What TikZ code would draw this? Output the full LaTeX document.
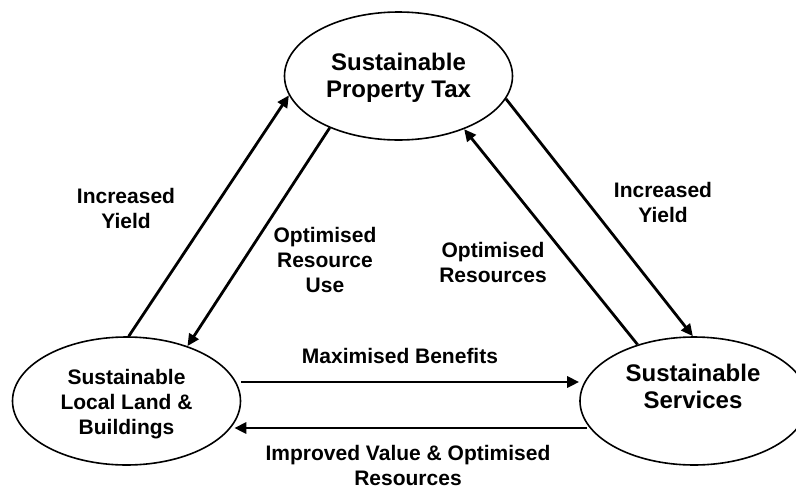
\documentclass[tikz,border=0pt]{standalone}
\usepackage{fontspec}
\setmainfont{Liberation Sans}
\usetikzlibrary{shapes.geometric,arrows.meta}
\begin{document}
\begin{tikzpicture}[x=1pt,y=-1pt,
  ell/.style={ellipse,draw,line width=1.6pt,minimum width=228pt,minimum height=128pt,inner sep=0pt},
  big/.style={font=\bfseries\fontsize{24}{27}\selectfont,align=center,inner sep=0pt},
  mid/.style={font=\bfseries\fontsize{21}{25}\selectfont,align=center,inner sep=0pt},
  lbl/.style={font=\bfseries\fontsize{21}{25}\selectfont,align=center,inner sep=0pt},
  arr/.style={line width=2.8pt,-{Triangle[length=12pt,width=11pt]}}]
\useasboundingbox (0,0) rectangle (796,488);
\clip (0,0) rectangle (796,488);

\node[ell,label={[big,yshift=-1.5pt,name=Tt]center:Sustainable\\Property Tax}] (T) at (398.5,76) {};
\node[ell,label={[mid,yshift=-3.5pt,name=Lt]center:Sustainable\\Local Land \&\\Buildings}] (L) at (126.5,401) {};
\node[ell,label={[big,xshift=-1pt,yshift=15pt,name=Rt]center:Sustainable\\Services}] (R) at (694,401) {};

\draw[arr] (L.88) -- (T.190.5);
\draw[arr] (T.217) -- (L.42);
\draw[arr] (R.135) -- (T.321.7);
\draw[arr] (T.348.8) -- (R.91);
\draw[arr] ([yshift=19pt]L.east) -- ([yshift=19pt]R.west);
\draw[arr] ([shift={(8pt,-27pt)}]R.west) -- ([shift={(-7pt,-27pt)}]L.east);

\node[lbl] (l1) at (126,208.5) {Increased\\Yield};
\node[lbl] (l2) at (325,260) {Optimised\\Resource\\Use};
\node[lbl] (l3) at (493,262) {Optimised\\Resources};
\node[lbl] (l4) at (663,202) {Increased\\Yield};
\node[lbl] (l5) at (400,355.5) {Maximised Benefits};
\node[lbl] (l6) at (408,465) {Improved Value \& Optimised\\Resources};
\end{tikzpicture}
\end{document}
